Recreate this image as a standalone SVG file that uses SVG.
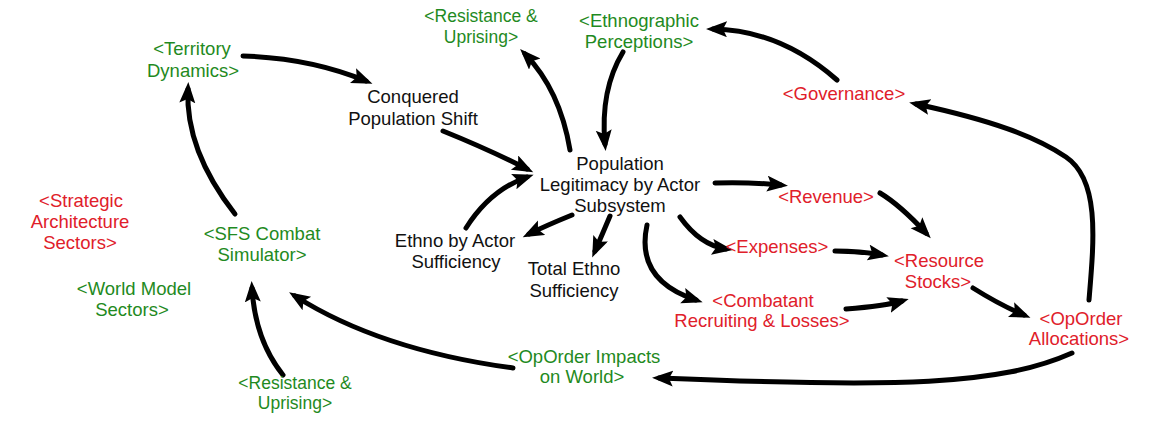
<svg xmlns="http://www.w3.org/2000/svg" width="1149" height="433" viewBox="0 0 1149 433">
<defs>
<style>
text{font-family:"Liberation Sans",Arial,sans-serif;font-size:18.5px;text-anchor:middle}
.s{font-size:17.5px}
.g{fill:#1f8a22}
.r{fill:#e0202a}
.k{fill:#111}
.c path{fill:none;stroke:#000;stroke-width:5;stroke-linecap:round;marker-end:url(#ah)}
</style>
<marker id="ah" markerUnits="userSpaceOnUse" markerWidth="22" markerHeight="18" refX="14" refY="8" orient="auto">
<path d="M0,0 L21,8 L0,16 L4,8 z" fill="#000"/>
</marker>
</defs>
<rect width="1149" height="433" fill="#fff"/>
<g class="c" id="connectors">
<path d="M243,56 Q310,58 366,81"/>
<path d="M235,214 Q185,150 188,89"/>
<path d="M443,131 Q490,150 527,169"/>
<path d="M466,228 Q490,190 527,177"/>
<path d="M570,150 Q560,90 525,54"/>
<path d="M623,52 Q600,90 605,144"/>
<path d="M837,80 Q780,30 713,29"/>
<path d="M715,183 Q750,182 781,185"/>
<path d="M880,193 Q900,205 926,233"/>
<path d="M835,251 Q860,251 882,255"/>
<path d="M846,309 Q885,306 902,301"/>
<path d="M973,288 Q1000,305 1024,315"/>
<path d="M1089,300 C1094,240 1100,180 1066,157 C1035,136 990,120 916,104"/>
<path d="M1072,353 C1000,385 900,388 659,378"/>
<path d="M513,368 Q380,350 295,296"/>
<path d="M283,375 Q255,340 252,288"/>
<path d="M572,215 Q545,226 529,234"/>
<path d="M610,216 Q602,235 595,251"/>
<path d="M680,217 Q700,245 726,249"/>
<path d="M647,225 Q635,280 696,300"/>
</g>
<g id="territory-dynamics"><text class="g" x="192" y="55">&lt;Territory</text><text class="g" x="193" y="77">Dynamics&gt;</text></g>
<g id="resistance-top"><text class="g s" x="481" y="22">&lt;Resistance &amp;</text><text class="g s" x="481" y="43">Uprising&gt;</text></g>
<g id="ethnographic"><text class="g" x="639" y="27">&lt;Ethnographic</text><text class="g" x="639" y="48">Perceptions&gt;</text></g>
<g id="conquered"><text class="k" x="413" y="103">Conquered</text><text class="k" x="413" y="125">Population Shift</text></g>
<g id="population-legitimacy"><text class="k" x="620" y="170">Population</text><text class="k" x="620" y="191">Legitimacy by Actor</text><text class="k" x="620" y="212">Subsystem</text></g>
<g id="governance"><text class="r" x="844" y="100">&lt;Governance&gt;</text></g>
<g id="revenue"><text class="r" x="826" y="203">&lt;Revenue&gt;</text></g>
<g id="expenses"><text class="r" x="777" y="253">&lt;Expenses&gt;</text></g>
<g id="resource-stocks"><text class="r" x="939" y="267">&lt;Resource</text><text class="r" x="938" y="288">Stocks&gt;</text></g>
<g id="combatant"><text class="r" x="763" y="307">&lt;Combatant</text><text class="r" x="762" y="327">Recruiting &amp; Losses&gt;</text></g>
<g id="oporder-allocations"><text class="r" x="1081" y="325">&lt;OpOrder</text><text class="r" x="1079" y="345">Allocations&gt;</text></g>
<g id="oporder-impacts"><text class="g" x="584" y="363">&lt;OpOrder Impacts</text><text class="g" x="582" y="383">on World&gt;</text></g>
<g id="ethno-by-actor"><text class="k" x="455" y="247">Ethno by Actor</text><text class="k" x="456" y="268">Sufficiency</text></g>
<g id="total-ethno"><text class="k" x="574" y="275">Total Ethno</text><text class="k" x="574" y="297">Sufficiency</text></g>
<g id="strategic-architecture"><text class="r" x="81" y="207">&lt;Strategic</text><text class="r" x="80" y="228">Architecture</text><text class="r" x="80" y="249">Sectors&gt;</text></g>
<g id="sfs-combat"><text class="g" x="262" y="240">&lt;SFS Combat</text><text class="g" x="262" y="261">Simulator&gt;</text></g>
<g id="world-model"><text class="g" x="134" y="295">&lt;World Model</text><text class="g" x="132" y="316">Sectors&gt;</text></g>
<g id="resistance-bottom"><text class="g s" x="295" y="389">&lt;Resistance &amp;</text><text class="g s" x="295" y="409">Uprising&gt;</text></g>
</svg>
